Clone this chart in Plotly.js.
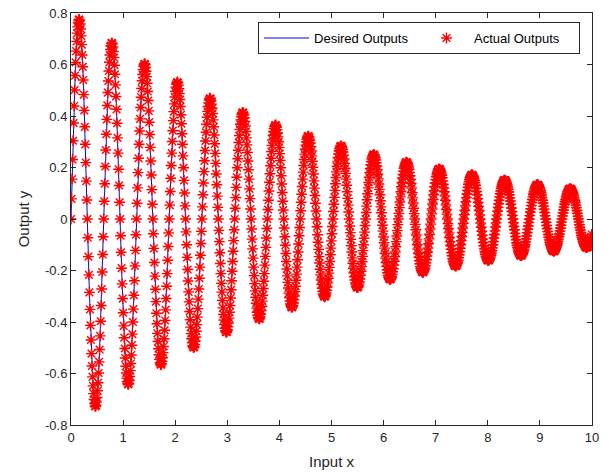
<!DOCTYPE html>
<html>
<head>
<meta charset="utf-8">
<script src="https://cdn.plot.ly/plotly-3.0.1.min.js"></script>
<style>html,body{margin:0;padding:0;background:#fff;}#chart{width:613px;height:474px;}</style>
</head>
<body>
<div id="chart"></div>
<script>
// Sampling of the curve along x (start and spacing of the samples)
const xStart = 0;
const xStep = 0.0098175;

// Output y values, one row per oscillation cycle
const desiredOutputs = [
0,0.078,0.155,0.231,0.304,0.373,0.439,0.501,0.557,0.608,0.652,0.690,0.722,0.746,0.763,0.773,0.775,0.770,0.757,0.738,0.711,0.677,0.637,0.591,0.540,0.483,0.422,0.358,0.290,0.219,0.147,0.074,0,-0.073,-0.146,-0.217,-0.285,-0.351,-0.413,-0.470,-0.523,-0.571,-0.613,-0.648,-0.678,-0.701,-0.717,-0.726,-0.728,-0.723,-0.711,-0.693,-0.667,-0.636,-0.598,-0.555,-0.507,-0.454,-0.397,-0.336,-0.272,-0.206,-0.138,-0.069,
0,0.069,0.137,0.204,0.268,0.329,0.387,0.441,0.491,0.536,0.575,0.609,0.637,0.658,0.673,0.682,0.684,0.679,0.668,0.650,0.627,0.597,0.562,0.521,0.476,0.426,0.372,0.315,0.256,0.193,0.130,0.065,0,-0.065,-0.129,-0.191,-0.252,-0.309,-0.364,-0.415,-0.461,-0.503,-0.540,-0.572,-0.598,-0.618,-0.632,-0.640,-0.642,-0.638,-0.627,-0.611,-0.589,-0.561,-0.528,-0.490,-0.447,-0.400,-0.350,-0.296,-0.240,-0.182,-0.122,-0.061,
0,0.061,0.121,0.180,0.236,0.290,0.342,0.389,0.433,0.473,0.507,0.537,0.561,0.580,0.594,0.601,0.603,0.599,0.589,0.574,0.553,0.527,0.495,0.460,0.420,0.376,0.328,0.278,0.225,0.171,0.114,0.057,0,-0.057,-0.114,-0.169,-0.222,-0.273,-0.321,-0.366,-0.407,-0.444,-0.476,-0.504,-0.527,-0.545,-0.558,-0.565,-0.566,-0.562,-0.553,-0.539,-0.519,-0.495,-0.465,-0.432,-0.394,-0.353,-0.309,-0.261,-0.212,-0.160,-0.107,-0.054,
0,0.054,0.107,0.158,0.208,0.256,0.301,0.343,0.382,0.417,0.447,0.474,0.495,0.512,0.524,0.530,0.532,0.528,0.520,0.506,0.487,0.464,0.437,0.405,0.370,0.331,0.290,0.245,0.199,0.150,0.101,0.051,0,-0.050,-0.100,-0.149,-0.196,-0.241,-0.283,-0.322,-0.359,-0.391,-0.420,-0.445,-0.465,-0.481,-0.492,-0.498,-0.499,-0.496,-0.488,-0.475,-0.458,-0.436,-0.410,-0.381,-0.348,-0.311,-0.272,-0.230,-0.187,-0.141,-0.095,-0.048,
0,0.047,0.094,0.140,0.184,0.226,0.266,0.303,0.337,0.368,0.395,0.418,0.437,0.451,0.462,0.468,0.469,0.466,0.458,0.446,0.430,0.410,0.385,0.358,0.326,0.292,0.255,0.216,0.175,0.133,0.089,0.045,0,-0.044,-0.088,-0.131,-0.173,-0.212,-0.250,-0.284,-0.316,-0.345,-0.371,-0.392,-0.410,-0.424,-0.434,-0.439,-0.440,-0.437,-0.430,-0.419,-0.404,-0.385,-0.362,-0.336,-0.307,-0.275,-0.240,-0.203,-0.165,-0.125,-0.084,-0.042,
0,0.042,0.083,0.123,0.162,0.199,0.234,0.267,0.297,0.324,0.348,0.368,0.385,0.398,0.407,0.412,0.414,0.411,0.404,0.393,0.379,0.361,0.340,0.315,0.288,0.258,0.225,0.191,0.155,0.117,0.079,0.039,0,-0.039,-0.078,-0.116,-0.152,-0.187,-0.220,-0.251,-0.279,-0.304,-0.327,-0.346,-0.362,-0.374,-0.382,-0.387,-0.388,-0.386,-0.379,-0.370,-0.356,-0.339,-0.319,-0.296,-0.270,-0.242,-0.212,-0.179,-0.145,-0.110,-0.074,-0.037,
0,0.037,0.073,0.109,0.143,0.176,0.207,0.236,0.262,0.286,0.307,0.325,0.340,0.351,0.359,0.364,0.365,0.362,0.356,0.347,0.334,0.319,0.300,0.278,0.254,0.227,0.199,0.168,0.136,0.103,0.069,0.035,0,-0.035,-0.069,-0.102,-0.134,-0.165,-0.194,-0.221,-0.246,-0.268,-0.288,-0.305,-0.319,-0.330,-0.337,-0.342,-0.343,-0.340,-0.335,-0.326,-0.314,-0.299,-0.282,-0.261,-0.238,-0.214,-0.187,-0.158,-0.128,-0.097,-0.065,-0.033,
0,0.032,0.065,0.096,0.126,0.155,0.182,0.208,0.231,0.252,0.271,0.287,0.300,0.310,0.317,0.321,0.322,0.320,0.314,0.306,0.295,0.281,0.264,0.245,0.224,0.201,0.175,0.148,0.120,0.091,0.061,0.031,0,-0.030,-0.061,-0.090,-0.118,-0.146,-0.171,-0.195,-0.217,-0.237,-0.254,-0.269,-0.281,-0.291,-0.297,-0.301,-0.302,-0.300,-0.295,-0.287,-0.277,-0.264,-0.248,-0.230,-0.210,-0.188,-0.165,-0.139,-0.113,-0.085,-0.057,-0.029,
0,0.029,0.057,0.084,0.111,0.137,0.161,0.183,0.204,0.222,0.239,0.253,0.264,0.273,0.279,0.283,0.284,0.282,0.277,0.270,0.260,0.248,0.233,0.216,0.197,0.177,0.155,0.131,0.106,0.080,0.054,0.027,0,-0.027,-0.053,-0.079,-0.104,-0.128,-0.151,-0.172,-0.191,-0.209,-0.224,-0.237,-0.248,-0.256,-0.262,-0.266,-0.266,-0.265,-0.260,-0.253,-0.244,-0.233,-0.219,-0.203,-0.185,-0.166,-0.145,-0.123,-0.100,-0.075,-0.051,-0.025,
0,0.025,0.050,0.075,0.098,0.121,0.142,0.162,0.180,0.196,0.211,0.223,0.233,0.241,0.246,0.250,0.250,0.249,0.244,0.238,0.229,0.219,0.206,0.191,0.174,0.156,0.136,0.115,0.094,0.071,0.047,0.024,0,-0.024,-0.047,-0.070,-0.092,-0.113,-0.133,-0.152,-0.169,-0.184,-0.198,-0.209,-0.219,-0.226,-0.231,-0.234,-0.235,-0.233,-0.230,-0.224,-0.215,-0.205,-0.193,-0.179,-0.164,-0.146,-0.128,-0.108,-0.088,-0.066,-0.045,-0.022,
0,0.022,0.044,0.066,0.086,0.106,0.125,0.142,0.159,0.173,0.186,0.197,0.205,0.212,0.217,0.220,0.221,0.219,0.216,0.210,0.202,0.193,0.181,0.168,0.154,0.138,0.120,0.102,0.082,0.062,0.042,0.021,0,-0.021,-0.042,-0.062,-0.081,-0.100,-0.117,-0.134,-0.149,-0.162,-0.174,-0.185,-0.193,-0.199,-0.204,-0.207,-0.207,-0.206,-0.202,-0.197,-0.190,-0.181,-0.170,-0.158,-0.144,-0.129,-0.113,-0.096,-0.077,-0.059,-0.039,-0.020,
0,0.020,0.039,0.058,0.076,0.094,0.110,0.126,0.140,0.153,0.164,0.173,0.181,0.187,0.192,0.194,0.195,0.193,0.190,0.185,0.178,0.170,0.160,0.148,0.135,0.121,0.106,0.090,0.073,0.055,0.037,0.019,0,-0.018,-0.037,-0.054,-0.072,-0.088,-0.104,-0.118,-0.131,-0.143,-0.154,-0.163,-0.170,-0.176,-0.180,-0.182,-0.183,-0.182,-0.179,-0.174,-0.168,-0.160,-0.150,-0.139,-0.127,-0.114,-0.100,-0.084,-0.068,-0.052,-0.035,-0.017,
0,0.017,0.034,0.051,0.067,0.083,0.097,0.111,0.123,0.135,0.144,0.153,0.160,0.165,0.169,0.171,0.172,0.170,0.168,0.163,0.157,0.150,0.141,0.131,0.119,0.107,0.094,0.079,0.064,0.049,0.033,0.016,0,-0.016,-0.032,-0.048,-0.063,-0.078,-0.091,-0.104,-0.116,-0.126,-0.136,-0.144,-0.150,-0.155,-0.159,-0.161,-0.161,-0.160,-0.157,-0.153,-0.148,-0.141,-0.132,-0.123,-0.112,-0.100,-0.088,-0.074,-0.060,-0.046,-0.031,-0.015,
0,0.015,0.030,0.045,0.059,0.073,0.086,0.098,0.109,0.119,0.127,0.135,0.141,0.146,0.149,0.151,0.151,0.150,0.148,0.144,0.139,0.132,0.124,0.115,0.105,0.094,0.082,0.070,0.057,0.043,0.029,0.014,0,-0.014,-0.029,-0.042,-0.056,-0.068,-0.081,-0.092,-0.102,-0.111,-0.120,-0.127,-0.132,-0.137,-0.140,-0.142,-0.142,-0.141,-0.139,-0.135,-0.130,-0.124,-0.117,-0.108,-0.099,-0.089,-0.077,-0.066,-0.053,-0.040,-0.027,-0.014,
0,0.013,0.027,0.040,0.052,0.064,0.076,0.086,0.096,0.105,0.112,0.119,0.124,0.128,0.131,0.133,0.133,0.133,0.130,0.127,0.122,0.117,0.110,0.102,0.093,0.083,0.073,0.062,0.050,0.038,0.025,0.013,0,-0.013,-0.025,-0.037,-0.049,-0.060,-0.071,-0.081,-0.090,-0.098,-0.105,-0.112,-0.117,-0.121,-0.123,-0.125,-0.125,-0.125,-0.122,-0.119,-0.115,-0.109,-0.103,-0.096,-0.087,-0.078,-0.068,-0.058,-0.047,-0.035,-0.024,-0.012,
0,0.012,0.024,0.035,0.046,0.057,0.067,0.076,0.085,0.092,0.099,0.105,0.110,0.113,0.116,0.117,0.118,0.117,0.115,0.112,0.108,0.103,0.097,0.090,0.082,0.073,0.064,0.054,0.044,0.033,0.022,0.011,0,-0.011,-0.022,-0.033,-0.043,-0.053,-0.063,-0.071,-0.079,-0.087,-0.093,-0.098,-0.103,-0.106,-0.109,-0.110,-0.111,-0.110,-0.108,-0.105,-0.101,-0.097,-0.091,-0.084,-0.077,-0.069,-0.060
];
// The network's outputs sit on the desired curve at this scale
const actualOutputs = desiredOutputs;

const seriesNames = ['Desired Outputs', 'Actual Outputs'];
const xTickVals = [0, 1, 2, 3, 4, 5, 6, 7, 8, 9, 10];
const xTickText = ['0', '1', '2', '3', '4', '5', '6', '7', '8', '9', '10'];
const yTickVals = [-0.8, -0.6, -0.4, -0.2, 0, 0.2, 0.4, 0.6, 0.8];
const yTickText = ['-0.8', '-0.6', '-0.4', '-0.2', '0', '0.2', '0.4', '0.6', '0.8'];
const xLabel = 'Input x';
const yLabel = 'Output y';

const axisColor = '#262626';
const fontFamily = '"Liberation Sans", Arial, Helvetica, sans-serif';

const traces = [
  {
    type: 'scatter', mode: 'lines', name: seriesNames[0],
    x0: xStart, dx: xStep, y: desiredOutputs,
    line: {color: '#0000ff', width: 1},
    hoverinfo: 'skip'
  },
  {
    type: 'scatter', mode: 'markers', name: seriesNames[1],
    x0: xStart, dx: xStep, y: actualOutputs,
    marker: {symbol: 'asterisk-open', size: 9, color: '#ff0000', line: {color: '#ff0000', width: 1.4}},
    hoverinfo: 'skip'
  }
];

const axisCommon = {
  showline: true, linecolor: axisColor, linewidth: 1, mirror: 'ticks',
  ticks: 'inside', ticklen: 5, tickwidth: 1, tickcolor: axisColor,
  showgrid: false, zeroline: false,
  tickfont: {family: fontFamily, size: 13, color: axisColor},
  tickmode: 'array'
};

const layout = {
  width: 613, height: 474,
  margin: {l: 71, r: 21, t: 13, b: 49},
  paper_bgcolor: '#ffffff', plot_bgcolor: '#ffffff',
  font: {family: fontFamily, color: axisColor},
  showlegend: true,
  xaxis: Object.assign({}, axisCommon, {
    range: [0, 10], tickvals: xTickVals, ticktext: xTickText,
    title: {text: xLabel, font: {family: fontFamily, size: 15, color: axisColor}, standoff: 12}
  }),
  yaxis: Object.assign({}, axisCommon, {
    range: [-0.8, 0.8], tickvals: yTickVals, ticktext: yTickText,
    title: {text: yLabel, font: {family: fontFamily, size: 15, color: axisColor}, standoff: 11}
  }),
  legend: {
    orientation: 'h', x: 0.977, xanchor: 'right', y: 0.978, yanchor: 'top',
    bgcolor: '#ffffff', bordercolor: axisColor, borderwidth: 1,
    font: {family: fontFamily, size: 13, color: '#000000'},
    itemwidth: 45,
    entrywidth: 100, entrywidthmode: 'pixels'
  }
};

Plotly.newPlot('chart', traces, layout, {staticPlot: true, displayModeBar: false});
</script>
</body>
</html>
